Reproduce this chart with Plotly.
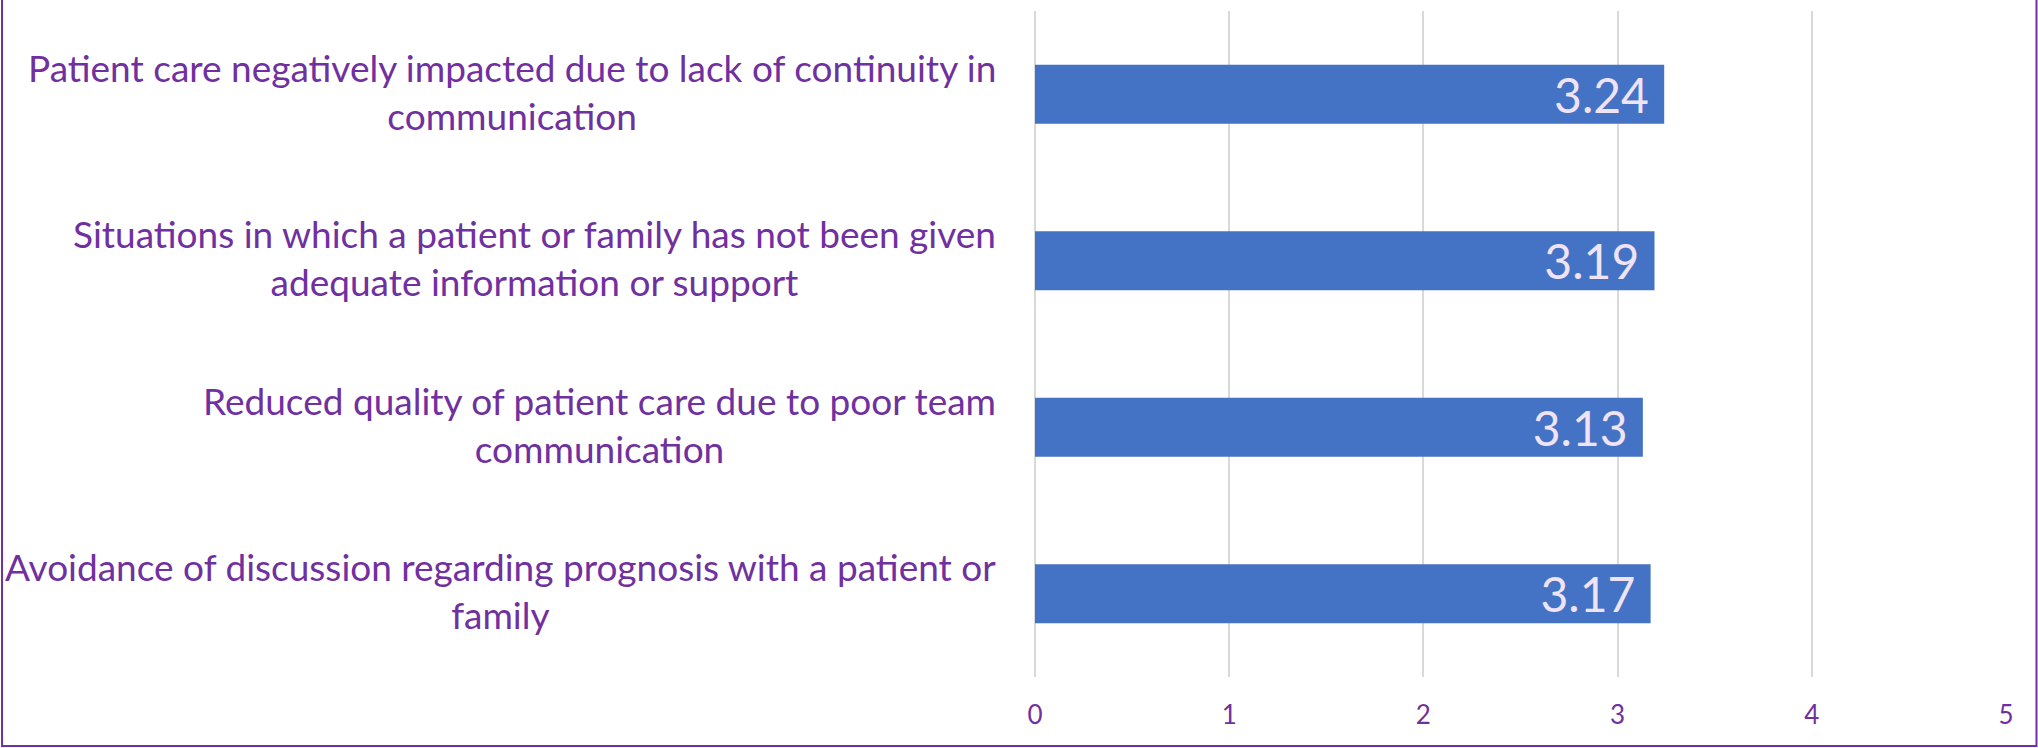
import plotly.graph_objects as go

categories = [
    "Patient care negatively impacted due to lack of continuity in<br>communication",
    "Situations in which a patient or family has not been given<br>adequate information or support",
    "Reduced quality of patient care due to poor team<br>communication",
    "Avoidance of discussion regarding prognosis with a patient or<br>family",
]
values = [3.24, 3.19, 3.13, 3.17]
tick_values = [0, 1, 2, 3, 4, 5]
tick_labels = ["0", "1", "2", "3", "4", "5"]

W, H = 2038, 748
ML, MR, MT, MB = 1034.5, 32, 11, 71
PW, PH = W - ML - MR, H - MT - MB

PURPLE = "#7030A0"
BAR = "#4472C4"
FONT = "Lato"

fig = go.Figure()
fig.add_trace(go.Bar(
    x=values,
    y=list(range(len(categories))),
    orientation="h",
    marker=dict(color=BAR, line=dict(width=0)),
    text=[f"{v:.2f}\u00a0" for v in values],
    textposition="inside",
    insidetextanchor="end",
    constraintext="none",
    textfont=dict(family=FONT, size=48, color="#EFE3F5"),
    hoverinfo="skip",
))

annotations = []
for i, c in enumerate(categories):
    annotations.append(dict(
        x=0, xref="paper", y=i, yref="y",
        text=c, showarrow=False,
        xanchor="right", yanchor="middle", align="center",
        xshift=-37, yshift=3,
        font=dict(family=FONT, size=37, color=PURPLE),
    ))


def px_x(p):
    return (p - ML) / PW


def px_y(p):
    return 1 - (p - MT) / PH


shapes = [dict(
    type="rect", xref="paper", yref="paper",
    x0=px_x(1), x1=px_x(2036.5), y0=px_y(746), y1=px_y(-10),
    line=dict(color=PURPLE, width=2), fillcolor="rgba(0,0,0,0)",
    layer="above",
)]

fig.update_layout(
    width=W, height=H,
    margin=dict(l=ML, r=MR, t=MT, b=MB, pad=0),
    paper_bgcolor="white", plot_bgcolor="white",
    showlegend=False,
    bargap=0.646,
    annotations=annotations,
    shapes=shapes,
    xaxis=dict(
        range=[0, 5], tickvals=tick_values, ticktext=tick_labels,
        showgrid=True, gridcolor="#D9D9D9", gridwidth=2,
        zeroline=True, zerolinecolor="#D9D9D9", zerolinewidth=2,
        showline=False, ticks="",
        tickfont=dict(family=FONT, size=26, color=PURPLE),
        ticklabelstandoff=20,
    ),
    yaxis=dict(
        range=[3.5, -0.5], showticklabels=False, showgrid=False,
        zeroline=False, showline=False, ticks="",
    ),
)

fig.write_html("out.html")
